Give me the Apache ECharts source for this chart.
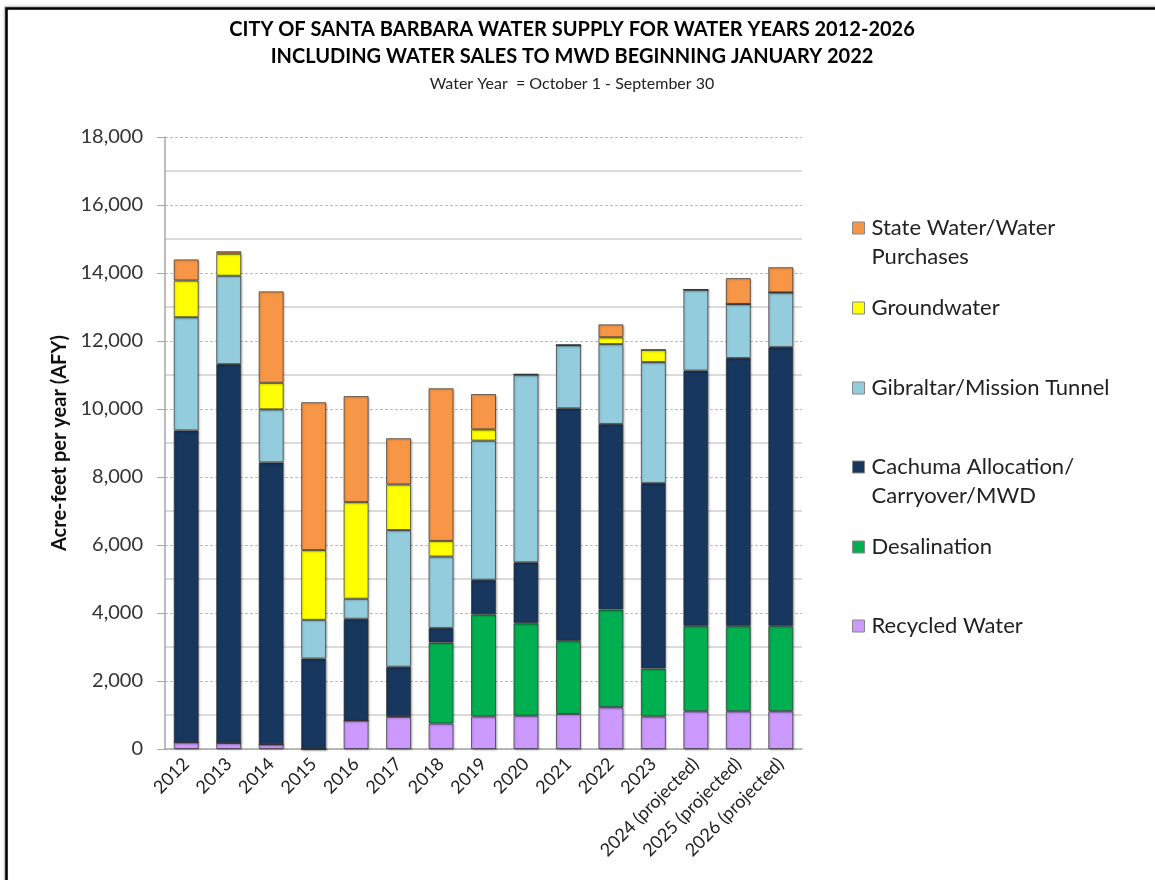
<!DOCTYPE html>
<html>
<head>
<meta charset="utf-8">
<script src="https://cdn.jsdelivr.net/npm/echarts@6/dist/echarts.min.js"></script>
<style>
html,body{margin:0;padding:0;background:#fff;}
#chart{width:1155px;height:880px;}
</style>
</head>
<body>
<div id="chart"></div>
<script>
const years = ['2012','2013','2014','2015','2016','2017','2018','2019','2020','2021','2022','2023','2024 (projected)','2025 (projected)','2026 (projected)'];
const yTicks = [0, 2000, 4000, 6000, 8000, 10000, 12000, 14000, 16000, 18000];

const recycled    = [200, 180, 140, 0, 840, 950, 750, 960, 980, 1030, 1230, 960, 1110, 1110, 1110];
const desalination= [0, 0, 0, 0, 0, 20, 2380, 3000, 2720, 2150, 2870, 1410, 2510, 2510, 2510];
const cachuma     = [9170, 11140, 8290, 2660, 2990, 1450, 430, 1020, 1790, 6840, 5460, 5450, 7510, 7880, 8200];
const gibraltar   = [3330, 2600, 1560, 1140, 590, 4020, 2100, 4090, 5520, 1860, 2350, 3560, 2380, 1590, 1610];
const groundwater = [1080, 650, 780, 2050, 2840, 1340, 460, 330, 0, 0, 200, 360, 0, 0, 0];
const stateWater  = [620, 70, 2690, 4350, 3120, 1360, 4490, 1040, 20, 0, 380, 0, 0, 760, 740];

const names = {
  state: 'State Water/Water\nPurchases',
  gw: 'Groundwater',
  gib: 'Gibraltar/Mission Tunnel',
  cach: 'Cachuma Allocation/\nCarryover/MWD',
  desal: 'Desalination',
  rec: 'Recycled Water'
};
const colors = {
  state: '#F79646', gw: '#FFFF00', gib: '#93CDDD', cach: '#17375E', desal: '#00B050', rec: '#CC99FF'
};

const FONT = 'Lato, "Noto Sans", sans-serif';

function mkSeries(key, data) {
  return {
    name: names[key], type: 'bar', stack: 'total', data: data,
    barWidth: 25,
    itemStyle: {
      color: colors[key],
      borderColor: 'rgba(50,50,50,0.7)',
      borderWidth: 1,
      shadowColor: 'rgba(0,0,0,0.25)', shadowBlur: 2, shadowOffsetX: 1, shadowOffsetY: 1
    },
    emphasis: {disabled: true}
  };
}

function mkLegend(key, centerY, twoLine) {
  return {
    left: 852, top: twoLine ? centerY - 43.5 : centerY - 14.5, orient: 'vertical',
    padding: 0,
    data: [names[key]],
    formatter: twoLine ? (n => '\n' + n) : undefined,
    itemWidth: 12, itemHeight: 12, itemGap: 0,
    icon: 'rect',
    selectedMode: false,
    itemStyle: {borderColor: '#888', borderWidth: 1},
    textStyle: {
      fontFamily: FONT, fontSize: 22, color: '#222', lineHeight: 29,
      padding: [0, 0, 0, 2]
    }
  };
}

const chart = echarts.init(document.getElementById('chart'), null, {renderer: 'canvas'});
chart.setOption({
  animation: false,
  backgroundColor: '#fff',
  textStyle: {fontFamily: FONT},
  title: [{
    text: 'CITY OF SANTA BARBARA WATER SUPPLY FOR WATER YEARS 2012-2026\nINCLUDING WATER SALES TO MWD BEGINNING JANUARY 2022',
    left: 567, top: 11, textAlign: 'center',
    textStyle: {fontFamily: FONT, fontWeight: 'bold', fontSize: 20, lineHeight: 27, color: '#000'}
  }, {
    text: 'Water Year  = October 1 - September 30',
    left: 567, top: 71, textAlign: 'center',
    textStyle: {fontFamily: FONT, fontWeight: 'normal', fontSize: 16, color: '#222'}
  }],
  legend: [
    mkLegend('state', 228, true),
    mkLegend('gw', 308, false),
    mkLegend('gib', 388, false),
    mkLegend('cach', 467, true),
    mkLegend('desal', 547, false),
    mkLegend('rec', 626, false)
  ],
  grid: {left: 165, right: 353, top: 137, bottom: 131, containLabel: false},
  xAxis: {
    type: 'category', data: years,
    axisLine: {lineStyle: {color: '#A6A6A6', width: 1.5}},
    axisTick: {show: false},
    axisLabel: {rotate: 45, fontFamily: FONT, fontSize: 18, color: '#222', margin: 12, interval: 0}
  },
  yAxis: {
    type: 'value', min: yTicks[0], max: yTicks[yTicks.length - 1], interval: 2000,
    name: 'Acre-feet per year (AFY)', nameLocation: 'middle', nameGap: 92,
    nameTextStyle: {fontFamily: FONT, fontWeight: 'bold', fontSize: 20, color: '#111'},
    axisLine: {show: true, lineStyle: {color: '#A6A6A6', width: 1.5}},
    axisTick: {show: true, inside: false, length: 8, lineStyle: {color: '#A6A6A6'}},
    axisLabel: {fontFamily: FONT, fontSize: 20, color: '#333', margin: 22,
      formatter: v => v.toLocaleString('en-US')},
    splitLine: {show: true, lineStyle: {color: '#BBBBBB', type: [3, 2], width: 1}},
    minorTick: {show: false, splitNumber: 2},
    minorSplitLine: {show: true, lineStyle: {color: '#CFCFCF', width: 1.5}}
  },
  graphic: [{
    type: 'rect', z: 100, silent: true,
    shape: {x: 6.5, y: 8.5, width: 1300, height: 1000},
    style: {fill: null, stroke: '#000', lineWidth: 2.5,
      shadowColor: 'rgba(0,0,0,0.35)', shadowBlur: 2, shadowOffsetX: -1, shadowOffsetY: -1}
  }],
  series: [
    mkSeries('rec', recycled),
    mkSeries('desal', desalination),
    mkSeries('cach', cachuma),
    mkSeries('gib', gibraltar),
    mkSeries('gw', groundwater),
    mkSeries('state', stateWater)
  ]
});
</script>
</body>
</html>
